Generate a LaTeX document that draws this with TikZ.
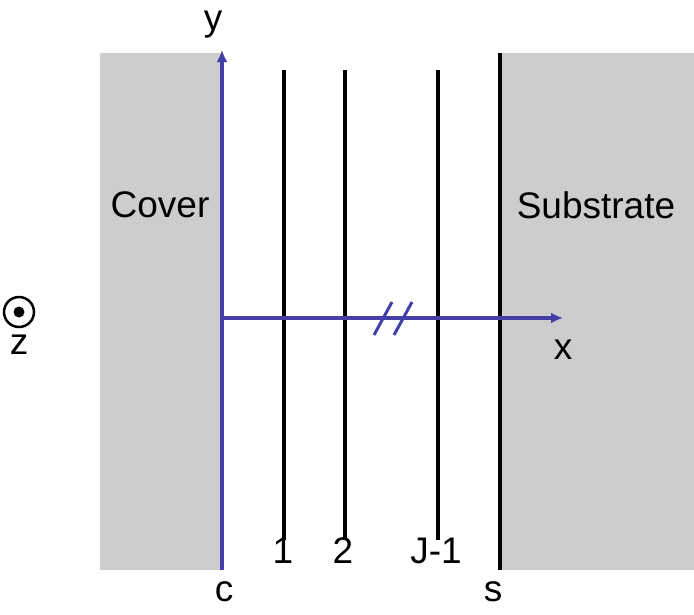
\documentclass[tikz,border=0pt]{standalone}
\usepackage{fontspec}
\setmainfont{Liberation Sans}
\usepackage{tikz}
\usetikzlibrary{arrows.meta, positioning}
\usepackage{xcolor}
\definecolor{axisblue}{RGB}{68,62,168}
\definecolor{layergray}{RGB}{205,205,205}

\begin{document}
\begin{tikzpicture}[
        x=1pt, y=-1pt,
        region/.style={fill=layergray, draw=none},
        iface/.style={line width=3.5pt, black},
        axis/.style={line width=3.5pt, axisblue, -{Latex[length=12pt, width=11pt]}},
        lbl/.style={font=\fontsize{37}{42}\selectfont, text=black, inner sep=0pt}
    ]
        \useasboundingbox (0,0) rectangle (694,614);

        % Cover and substrate
        \fill[region] (100,53) rectangle (222,570);
        \fill[region] (500,53) rectangle (694,570);
        \node[lbl] (cover) at (160,205) {Cover};
        \node[lbl] (sub) at (596,205) {Substrate};

        % Interfaces
        \coordinate (l1t) at (284,70);  \coordinate (l1b) at (284,540);
        \coordinate (l2t) at (345,70);  \coordinate (l2b) at (345,540);
        \coordinate (l3t) at (438,70);  \coordinate (l3b) at (438,540);
        \coordinate (st) at (500,53);   \coordinate (sb) at (500,570);
        \draw[iface] (l1t) -- (l1b);
        \draw[iface] (l2t) -- (l2b);
        \draw[iface] (l3t) -- (l3b);
        \draw[iface, line width=4pt] (st) -- (sb);
        \node[lbl] (n1) at (283,551) {1};
        \node[lbl] (n2) at (343,551) {2};
        \node[lbl] (nj) at (436,551) {J-1};

        % Axes
        \coordinate (o) at (222,318);
        \coordinate (ybot) at (222,570);
        \coordinate (ytop) at (222,50);
        \coordinate (xend) at (563,318);
        \draw[axis] (ybot) -- (ytop);
        \draw[axis] (o) -- (xend);
        \draw[line width=3pt, axisblue] (374,335) -- (392,302);
        \draw[line width=3pt, axisblue] (394,335) -- (412,302);
        \node[lbl, anchor=base, text height=1.6ex] (ylab) at (213,30) {y};
        \node[lbl] (xlab) at (563,350) {x};
        \node[lbl] (clab) at (224,592) {c};
        \node[lbl] (slab) at (493,592) {s};

        % z out of page
        \node[circle, draw, line width=2.5pt, minimum size=30pt, inner sep=0pt] (zc) at (19,312) {};
        \fill (zc.center) circle (5.5pt);
        \node[lbl] (zlab) at (19,345) {z};
    \end{tikzpicture}
\end{document}
